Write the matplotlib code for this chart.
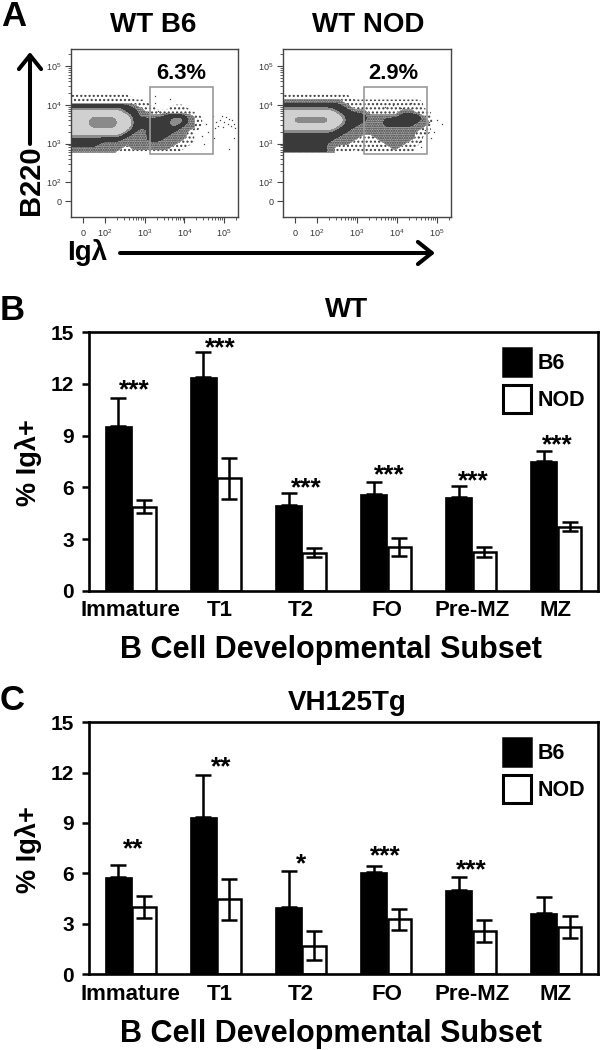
import numpy as np
import matplotlib
matplotlib.use("Agg")
import matplotlib.pyplot as plt
from matplotlib.colors import BoundaryNorm, ListedColormap
from matplotlib.patches import FancyArrowPatch, Patch, Rectangle

plt.rcParams["font.family"] = ["Liberation Sans", "DejaVu Sans"]
plt.rcParams["font.weight"] = "bold"
plt.rcParams["mathtext.fontset"] = "custom"
plt.rcParams["mathtext.rm"] = "Liberation Sans"
plt.rcParams["hatch.color"] = "#3c3c3c"

# ----------------------------
# Data
# ----------------------------
subsets = ["Immature", "T1", "T2", "FO", "Pre-MZ", "MZ"]
y_ticks = [0, 3, 6, 9, 12, 15]

wt_b6 = [9.58, 12.39, 4.97, 5.61, 5.42, 7.51]
wt_b6_err = [1.59, 1.47, 0.68, 0.68, 0.68, 0.60]
wt_nod = [4.88, 6.52, 2.20, 2.55, 2.25, 3.72]
wt_nod_err = [0.36, 1.20, 0.25, 0.51, 0.29, 0.27]
wt_stars = ["***", "***", "***", "***", "***", "***"]
wt_star_y = [11.98, 14.46, 6.33, 7.10, 6.70, 8.80]

tg_b6 = [5.76, 9.34, 3.97, 6.10, 4.99, 3.62]
tg_b6_err = [0.74, 2.54, 2.15, 0.36, 0.81, 0.99]
tg_nod = [3.97, 4.45, 1.69, 3.26, 2.58, 2.80]
tg_nod_err = [0.66, 1.21, 0.87, 0.63, 0.66, 0.63]
tg_stars = ["**", "**", "*", "***", "***", ""]
tg_star_y = [7.79, 12.66, 6.89, 7.39, 6.56, 0]

# flow plots: density class on a coarse grid
# (0 empty, 1-2 scattered dots, 3 dark, 4 mid, 5 light, 6 core), top row first
b6_density = [
    [0] * 22,
    [1, 1, 1, 1, 1, 1, 1, 1, 0, 0, 0, 0, 0, 0, 0, 0, 0, 0, 0, 0, 0, 0],
    [1, 1, 1, 1, 1, 1, 1, 1, 1, 1, 0, 0, 0, 0, 0, 0, 0, 0, 0, 0, 0, 0],
    [3, 3, 3, 3, 3, 3, 3, 3, 2, 1, 1, 0, 0, 1, 1, 0, 0, 0, 0, 0, 0, 0],
    [4, 4, 4, 4, 4, 4, 4, 3, 3, 2, 1, 1, 1, 1, 1, 1, 0, 0, 0, 0, 0, 0],
    [5, 5, 5, 5, 5, 5, 5, 4, 3, 2, 2, 2, 3, 3, 3, 2, 1, 0, 0, 0, 0, 0],
    [5, 5, 5, 6, 6, 6, 5, 5, 3, 3, 3, 3, 3, 4, 4, 2, 1, 0, 0, 0, 0, 0],
    [5, 5, 5, 6, 6, 6, 5, 5, 3, 3, 3, 3, 3, 4, 3, 2, 1, 0, 0, 0, 0, 0],
    [5, 5, 5, 5, 5, 5, 5, 4, 3, 2, 3, 3, 3, 3, 2, 1, 0, 0, 0, 0, 0, 0],
    [4, 4, 4, 4, 4, 4, 4, 3, 2, 2, 3, 3, 3, 2, 2, 1, 0, 0, 0, 0, 0, 0],
    [3, 3, 3, 3, 3, 3, 3, 2, 2, 2, 3, 3, 2, 2, 1, 1, 0, 0, 0, 0, 0, 0],
    [3, 3, 3, 3, 2, 2, 2, 1, 2, 2, 2, 2, 2, 1, 1, 0, 0, 0, 0, 0, 0, 0],
    [2, 2, 2, 2, 2, 2, 1, 1, 1, 1, 1, 1, 1, 1, 0, 0, 0, 0, 0, 0, 0, 0],
]
nod_density = [
    [0] * 22,
    [1, 1, 1, 1, 1, 1, 1, 1, 1, 0, 0, 0, 0, 0, 0, 0, 0, 0, 0, 0, 0, 0],
    [2, 2, 2, 2, 2, 2, 2, 2, 1, 1, 1, 1, 1, 1, 1, 1, 1, 1, 0, 0, 0, 0],
    [3, 3, 3, 3, 3, 3, 3, 3, 2, 1, 1, 1, 1, 1, 1, 1, 1, 1, 0, 0, 0, 0],
    [4, 4, 4, 4, 4, 4, 4, 3, 3, 2, 2, 1, 1, 1, 1, 2, 2, 1, 1, 0, 0, 0],
    [5, 5, 5, 5, 5, 5, 5, 4, 3, 3, 3, 2, 2, 2, 2, 3, 3, 3, 1, 0, 0, 0],
    [5, 5, 6, 6, 6, 6, 5, 5, 3, 3, 3, 2, 2, 3, 3, 3, 3, 3, 2, 0, 0, 0],
    [5, 5, 5, 5, 5, 5, 5, 4, 3, 3, 2, 2, 2, 3, 3, 3, 3, 2, 1, 0, 0, 0],
    [4, 4, 4, 4, 4, 4, 4, 3, 3, 2, 2, 2, 2, 2, 2, 2, 2, 1, 1, 0, 0, 0],
    [3, 3, 3, 3, 3, 3, 3, 3, 2, 2, 1, 1, 2, 2, 2, 2, 2, 1, 0, 0, 0, 0],
    [3, 3, 3, 3, 3, 3, 3, 2, 2, 1, 1, 1, 1, 2, 2, 2, 1, 1, 0, 0, 0, 0],
    [3, 3, 3, 3, 3, 3, 2, 1, 1, 1, 1, 1, 1, 1, 2, 1, 1, 0, 0, 0, 0, 0],
    [3, 3, 3, 3, 3, 3, 2, 1, 1, 0, 1, 1, 1, 1, 1, 1, 1, 0, 0, 0, 0, 0],
]

# stray events outside the main populations, in decades
b6_stray_x = [4.72, 4.80, 4.85, 4.90, 4.95, 5.00, 5.05, 5.10, 5.12, 5.18, 5.20, 5.25, 5.28, 4.78,
              4.98, 4.75, 5.12, 5.25, 4.55, 4.60, 4.45, 4.50, 3.25, 3.25, 3.65, 3.55, 3.35]
b6_stray_y = [3.72, 3.55, 3.45, 3.60, 3.72, 3.55, 3.68, 3.50, 3.62, 3.45, 3.60, 3.50, 3.40, 3.40,
              3.42, 3.15, 2.85, 3.15, 3.50, 3.30, 3.20, 3.00, 4.22, 4.05, 4.15, 3.80, 3.85]
nod_stray_x = [4.62, 4.70, 4.80, 4.92, 5.00, 5.12, 4.55, 4.85, 4.60, 3.50, 3.70, 3.90, 4.10, 4.35]
nod_stray_y = [3.60, 3.35, 3.55, 3.30, 3.60, 3.50, 3.05, 3.15, 2.90, 4.05, 3.95, 4.00, 3.92, 4.05]

flow_titles = ["WT B6", "WT NOD"]
flow_gates = ["6.3%", "2.9%"]
flow_tick_pos = [2, 3, 4, 5]
flow_tick_labels = ["$\\mathregular{10^{2}}$", "$\\mathregular{10^{3}}$",
                    "$\\mathregular{10^{4}}$", "$\\mathregular{10^{5}}$"]

W, H = 600, 1050


def ax_px(left, top, right, bottom):
    return [left / W, 1 - bottom / H, (right - left) / W, (bottom - top) / H]


def fig_text(fig, x, y, s, **kw):
    kw.setdefault("ha", "center")
    kw.setdefault("va", "center")
    fig.text(x / W, 1 - y / H, s, **kw)


def flow_plot(fig, box, density, stray_x, stray_y, gate, gate_label):
    ax = fig.add_axes(ax_px(*box))
    grid_x = np.linspace(1.15, 5.35, 22)
    grid_y = np.linspace(4.33, 2.77, 13)
    dens = np.array(density, dtype=float)
    dx, dy = grid_x[1] - grid_x[0], grid_y[0] - grid_y[1]

    # scattered dots underneath, smooth bands on top
    ax.contourf(grid_x, grid_y, dens, levels=[0.5, 1.5, 7], colors=["white", "#a8a8a8"],
                hatches=["....", "......."], zorder=1)
    cmap = ListedColormap(["#3a3a3a", "#8c8c8c", "#d0d0d0", "#8a8a8a"])
    cmap.set_under((1, 1, 1, 0))
    ax.imshow(dens, extent=(grid_x[0] - dx / 2, grid_x[-1] + dx / 2, 2.77, 4.33 + dy * 0.7),
              aspect="auto", cmap=cmap, norm=BoundaryNorm([2.5, 3.45, 3.9, 5.3, 7], 4),
              interpolation="bicubic", interpolation_stage="data", zorder=2)

    ax.plot(stray_x, stray_y, ls="", marker="s", ms=0.9, color="#444444", mew=0, zorder=3)
    ax.add_patch(Rectangle((gate[0], gate[2]), gate[1] - gate[0], gate[3] - gate[2],
                           fill=False, ec="#9a9a9a", lw=1.2, zorder=4))
    ax.text(3.92, 4.8, gate_label, ha="center", va="center", fontsize=15.8)
    ax.set_xlim(1.15, 5.35)
    ax.set_ylim(1.11, 5.44)
    minor = [d + np.log10(m) for d in [2, 3, 4, 5] for m in range(2, 10)]
    ax.set_xticks([1.45] + flow_tick_pos)
    ax.set_yticks([1.51] + flow_tick_pos)
    ax.set_xticks([t for t in minor if t < 5.35], minor=True)
    ax.set_yticks([t for t in minor if t < 5.44], minor=True)
    ax.set_xticklabels(["0"] + flow_tick_labels, fontsize=6.5, fontweight="normal",
                       color="#333333", va="center")
    ax.set_yticklabels(["0"] + flow_tick_labels, fontsize=6.5, fontweight="normal", color="#333333")
    ax.tick_params(axis="x", which="major", length=4, width=0.8, pad=8, color="#444444")
    ax.tick_params(axis="y", which="major", length=4, width=0.8, pad=3, color="#444444")
    ax.tick_params(which="minor", length=2, width=0.6, color="#444444")
    for s in ax.spines.values():
        s.set_linewidth(1.0)
        s.set_color("#444444")
    return ax


def bar_panel(fig, box, b6, b6_err, nod, nod_err, stars, star_y, star_x, leg_top):
    ax = fig.add_axes(ax_px(*box))
    x = np.arange(len(subsets))
    ax.bar(x - 0.143, b6, 0.314, color="black", edgecolor="black", linewidth=0.5,
           yerr=[np.zeros(len(b6)), b6_err],
           error_kw=dict(ecolor="black", elinewidth=1.8, capsize=6, capthick=1.8))
    ax.bar(x + 0.159, nod, 0.277, color="white", edgecolor="black", linewidth=1.8,
           yerr=nod_err, error_kw=dict(ecolor="black", elinewidth=1.8, capsize=6, capthick=1.8))
    for sx, sy, s in zip(star_x, star_y, stars):
        if s:
            ax.text(sx, sy - 0.78, s, ha="center", va="baseline", fontsize=19)
    ax.set_xlim(-0.484, 5.49)
    ax.set_ylim(0, 15)
    ax.set_yticks(y_ticks)
    ax.set_xticks([0, 1.05, 2, 3.01, 4.02, 5])
    ax.set_xticklabels(subsets, fontsize=16)
    ax.tick_params(axis="y", length=5, width=1.8, labelsize=15, pad=6)
    ax.tick_params(axis="x", length=0, pad=7)
    for s in ax.spines.values():
        s.set_linewidth(1.9)
    handles = [Patch(facecolor="black", edgecolor="black", linewidth=1.8),
               Patch(facecolor="white", edgecolor="black", linewidth=2.2)]
    ax.legend(handles, ["B6", "NOD"], loc="upper left", frameon=False, fontsize=15.5,
              bbox_to_anchor=((503 - box[0]) / (box[2] - box[0]), 1 - (leg_top - box[1]) / (box[3] - box[1])),
              borderaxespad=0, borderpad=0, handlelength=1.3, handleheight=1.62,
              labelspacing=0.42, handletextpad=0.3)
    return ax


# ----------------------------
# Plot
# ----------------------------
fig = plt.figure(figsize=(6, 10.5), dpi=100)

flow_plot(fig, (71, 49, 238, 216.7), b6_density, b6_stray_x, b6_stray_y,
          (3.14, 4.73, 2.72, 4.47), flow_gates[0])
flow_plot(fig, (283, 49, 451, 216.7), nod_density, nod_stray_x, nod_stray_y,
          (3.165, 4.75, 2.72, 4.47), flow_gates[1])
fig_text(fig, 153, 25, flow_titles[0], fontsize=20)
fig_text(fig, 368, 25, flow_titles[1], fontsize=20)

fig_text(fig, 31, 180, "B220", rotation=90, fontsize=21)
fig_text(fig, 87, 253, "Ig\u03bb", fontsize=20)
for a, b in [((30, 144), (30, 52)), ((120, 253), (435, 253))]:
    fig.add_artist(FancyArrowPatch((a[0] / W, 1 - a[1] / H), (b[0] / W, 1 - b[1] / H),
                                   transform=fig.transFigure, lw=2.9, color="black",
                                   arrowstyle="->,head_length=0.5,head_width=0.4",
                                   mutation_scale=20, shrinkA=0, shrinkB=0))

star_x_wt = [0.05, 1.06, 2.07, 3.04, 4.03, 5.01]
star_x_tg = [0.03, 1.07, 2.01, 3.00, 4.00, 5.00]
bar_panel(fig, (89.3, 332.3, 597.7, 590.7), wt_b6, wt_b6_err, wt_nod, wt_nod_err,
          wt_stars, wt_star_y, star_x_wt, 348)
bar_panel(fig, (89.3, 722.3, 597.7, 974), tg_b6, tg_b6_err, tg_nod, tg_nod_err,
          tg_stars, tg_star_y, star_x_tg, 738)

fig_text(fig, 347, 310, "WT", fontsize=20)
fig_text(fig, 347, 703, "VH125Tg", fontsize=20)
fig_text(fig, 29, 463, "% Ig\u03bb+", rotation=90, fontsize=19.5)
fig_text(fig, 29, 850, "% Ig\u03bb+", rotation=90, fontsize=19.5)
fig_text(fig, 331, 650, "B Cell Developmental Subset", fontsize=22)
fig_text(fig, 331, 1034, "B Cell Developmental Subset", fontsize=22)

fig_text(fig, 14, 17, "A", fontsize=25)
fig_text(fig, 12, 311, "B", fontsize=25)
fig_text(fig, 12, 700, "C", fontsize=25)

fig.savefig("out.png", dpi=100)
plt.close(fig)
